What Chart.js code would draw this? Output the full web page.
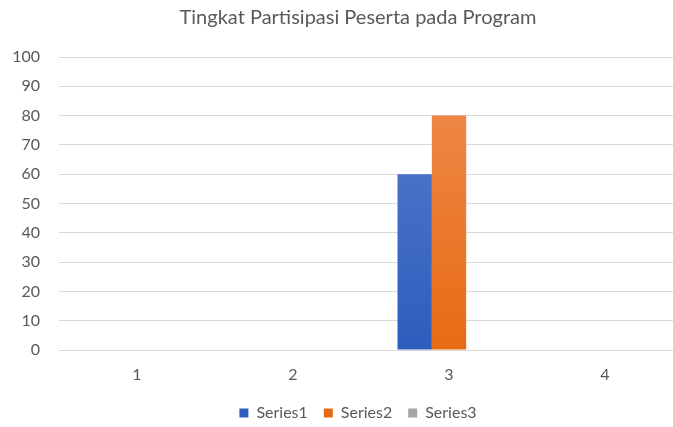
<!DOCTYPE html>
<html>
<head>
<meta charset="utf-8">
<script src="https://cdn.jsdelivr.net/npm/chart.js@4"></script>
<style>
html, body { margin: 0; padding: 0; background: #ffffff; }
#wrap { position: relative; width: 673px; height: 427px; overflow: hidden; }
#box { position: absolute; left: 0; top: 0; width: 716px; height: 427px; }
</style>
</head>
<body>
<div id="wrap"><div id="box"><canvas id="chart"></canvas></div></div>
<script>

// -------------------------------------
// DATA
// -------------------------------------

const categories = ["1", "2", "3", "4"];
const series1 = [0, 0, 60, 0];
const series2 = [0, 0, 80, 0];
const series3 = [0, 0, 0, 0];
const seriesNames = ["Series1", "Series2", "Series3"];
const chartTitle = "Tingkat Partisipasi Peserta pada Program";


// -------------------------------------
// GRADIENT FILL
// -------------------------------------

function vGradient(top, bottom){
return function(ctx){
const area = ctx.chart.chartArea;
if(!area) return bottom;
const g = ctx.chart.ctx.createLinearGradient(0, area.top, 0, area.bottom);
g.addColorStop(0, top);
g.addColorStop(1, bottom);
return g;
};
}

const FONT = "Lato, 'Open Sans', sans-serif";
const TXT = "#595959";

new Chart(document.getElementById("chart"), {

type: "bar",

data: {
labels: categories,
datasets: [
{ label: seriesNames[0], data: series1, backgroundColor: vGradient("#5a7fcd", "#2d5dbd"), borderWidth: 0 },
{ label: seriesNames[1], data: series2, backgroundColor: vGradient("#f08c50", "#e76b14"), borderWidth: 0 },
{ label: seriesNames[2], data: series3, backgroundColor: "#a5a5a5", borderWidth: 0 }
]
},

options: {
responsive: true,
maintainAspectRatio: false,
animation: false,
barPercentage: 1,
categoryPercentage: 0.66,
layout: { padding: { left: 12, right: 12, top: 6, bottom: 0 } },
plugins: {
title: {
display: true,
text: chartTitle,
color: TXT,
font: { family: FONT, size: 20, weight: "normal" },
padding: { top: 0, bottom: 27 }
},
legend: {
position: "bottom",
maxHeight: 38,
labels: {
color: TXT,
font: { family: FONT, size: 16 },
boxWidth: 9,
boxHeight: 9,
padding: 16
}
},
tooltip: { enabled: false }
},
scales: {
x: {
afterFit: function(scale){ scale.height = 39; },
grid: { display: false, drawTicks: false },
border: { display: true, color: "#d9d9d9", width: 1 },
ticks: { color: TXT, font: { family: FONT, size: 16 }, padding: 15 }
},
y: {
min: 0,
max: 100,
afterFit: function(scale){ scale.width = 47; },
ticks: { stepSize: 10, color: TXT, font: { family: FONT, size: 16 }, padding: 19 },
grid: { color: "#d9d9d9", drawTicks: false },
border: { display: false }
},
// empty right-hand spacer so the title and legend centre like the original
y2: {
position: "right",
afterFit: function(scale){ scale.width = 21; },
ticks: { display: false },
grid: { display: false, drawTicks: false },
border: { display: false }
}
}
}

});

</script>
</body>
</html>
